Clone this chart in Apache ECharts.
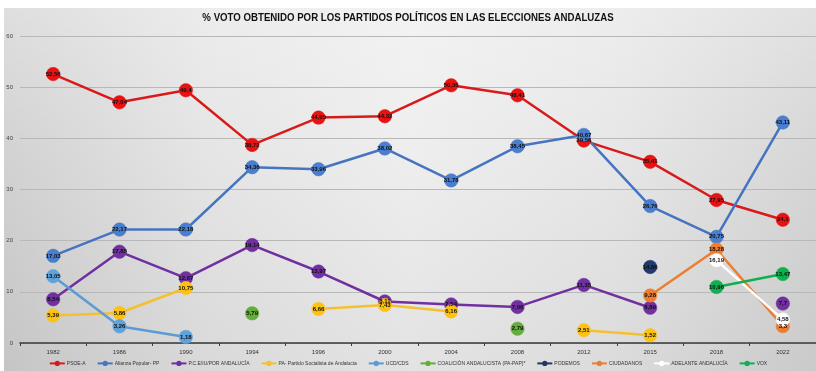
<!DOCTYPE html>
<html><head><meta charset="utf-8">
<script src="https://cdn.jsdelivr.net/npm/echarts@6/dist/echarts.min.js"></script>
<style>
html,body{margin:0;padding:0;background:#fff;}
#wrap{position:absolute;left:0;top:0;width:816px;height:371px;background:#fff;}
#bg{position:absolute;left:4px;top:8px;width:812px;height:363px;
background:linear-gradient(90deg,#cdcdcd 0%,#e2e2e2 25%,#ececec 50%,#e4e4e4 75%,#d2d2d2 100%);}
#bg2{position:absolute;left:4px;top:8px;width:812px;height:363px;
background:linear-gradient(180deg,rgba(255,255,255,0.35) 0%,rgba(255,255,255,0.1) 40%,rgba(0,0,0,0.04) 100%);}
#chart{position:absolute;left:0;top:0;width:816px;height:371px;}
</style></head>
<body><div id="wrap"><div id="bg"></div><div id="bg2"></div><div id="chart"></div></div>
<script>
const years = ['1982','1986','1990','1994','1996','2000','2004','2008','2012','2015','2018','2022'];
const psoe     = [52.56, 47.04, 49.4, 38.72, 44.05, 44.32, 50.36, 48.41, 39.56, 35.41, 27.95, 24.1];
const pp       = [17.03, 22.17, 22.18, 34.36, 33.96, 38.02, 31.78, 38.45, 40.67, 26.76, 20.75, 43.11];
const iu       = [8.54, 17.85, 12.67, 19.14, 13.97, 8.11, 7.54, 7.06, 11.35, 6.89, null, 7.7];
const pa       = [5.39, 5.86, 10.75, null, 6.66, 7.43, 6.16, null, 2.51, 1.52, null, null];
const ucd      = [13.05, 3.26, 1.18, null, null, null, null, null, null, null, null, null];
const coalicion= [null, null, null, 5.79, null, null, null, 2.79, null, null, null, null];
const podemos  = [null, null, null, null, null, null, null, null, null, 14.86, null, null];
const cs       = [null, null, null, null, null, null, null, null, null, 9.28, 18.28, 3.3];
const adelante = [null, null, null, null, null, null, null, null, null, null, 16.19, 4.58];
const vox      = [null, null, null, null, null, null, null, null, null, null, 10.96, 13.47];
const yTicks = [0, 10, 20, 30, 40, 50, 60];
const titleText = '% VOTO OBTENIDO POR LOS PARTIDOS POLÍTICOS EN LAS ELECCIONES ANDALUZAS';

const chart = echarts.init(document.getElementById('chart'), null, {renderer:'canvas'});
function mk(name, data, color, lineColor, labelColor){
  return {
    name, type:'line', data, symbol:'circle', symbolSize:13.5, showAllSymbol:true,
    connectNulls:false,
    lineStyle:{color: lineColor||color, width:2.5},
    itemStyle:{color: color, borderColor: lineColor||color, borderWidth:0.5},
    label:{show:true, position:'inside', fontSize:6, fontWeight:'bold', fontFamily:'Liberation Sans, sans-serif', color: labelColor||'#111',
      formatter: p => String(p.value).replace('.', ',')},
    emphasis:{disabled:true}, animation:false, z:2
  };
}
const series = [
  mk('PSOE-A', psoe, '#e81212', '#d81a1a'),
  mk('Alianza Popular- PP', pp, '#4a7fcf', '#4674c0'),
  mk('P.C.E/IU/POR ANDALUCÍA', iu, '#7030a0', '#7030a0'),
  mk('PA- Partido Socialista de Andalucia', pa, '#ffc20e', '#f5c030'),
  mk('UCD/CDS', ucd, '#5ea3dc', '#5b9bd5'),
  mk('COALICIÓN ANDALUCISTA (PA-PAP)*', coalicion, '#62ad3c', '#62ad3c'),
  mk('PODEMOS', podemos, '#1f3b6e', '#1f3864'),
  mk('CIUDADANOS', cs, '#ed7d31', '#ed7d31'),
  mk('ADELANTE ANDALUCÍA', adelante, '#ffffff', '#ffffff'),
  mk('VOX', vox, '#0fb050', '#0fb050')
];
chart.setOption({
  animation:false,
  backgroundColor:'transparent',
  graphic:[{type:'text', left:'center', top:12, scaleX:0.84, originX:408,
    style:{text:titleText, fontSize:11.5, fontWeight:'bold', fill:'#111', fontFamily:'Liberation Sans, sans-serif'}}],
  grid:{left:20, top:36, width:799, height:307, containLabel:false},
  xAxis:{type:'category', data:years, boundaryGap:true,
    axisLine:{lineStyle:{color:'#3a3a3a', width:1.5}},
    axisTick:{show:true, alignWithLabel:false, length:3, lineStyle:{color:'#3a3a3a'}},
    axisLabel:{fontSize:6, color:'#333', margin:6, fontFamily:'Liberation Sans, sans-serif'}},
  yAxis:{type:'value', min:yTicks[0], max:yTicks[yTicks.length-1], interval:10,
    axisLine:{show:false}, axisTick:{show:false},
    axisLabel:{fontSize:6, color:'#444', margin:7, fontFamily:'Liberation Sans, sans-serif'},
    splitLine:{lineStyle:{color:'#b8b8b8', width:1}}},
  legend:{bottom:5, left:'center', width:800, padding:0, itemWidth:15, itemHeight:4, itemGap:11,
    textStyle:{fontSize:5, color:'#333', fontFamily:'Liberation Sans, sans-serif', padding:[0,0,0,-3]},
    data:series.map(s=>s.name)},
  series
});
</script></body></html>
